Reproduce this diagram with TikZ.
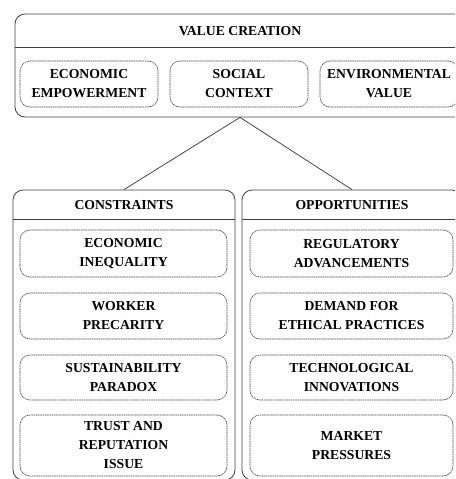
\documentclass[tikz,border=0pt]{standalone}
\usepackage{fontspec}
\setmainfont{Liberation Serif}
\usetikzlibrary{positioning}

\begin{document}
\begin{tikzpicture}[x=1pt,y=-1pt,
    font=\fontsize{13.7}{19}\selectfont\bfseries,
  ]

\tikzstyle{frame} = [rectangle, rounded corners=10pt, draw=black!75, line width=0.8pt, inner sep=0pt]
\tikzstyle{head} = [inner sep=0pt, text centered]
\tikzstyle{item} = [rectangle, rounded corners=10pt, draw=black!75, line width=0.6pt, dash pattern=on 1.2pt off 0.6pt, inner sep=0pt, align=center]

\useasboundingbox (0,0) rectangle (455,479);
\clip (0,0) rectangle (455,479);

    % value creation block
    \node [frame, minimum width=450pt, minimum height=103pt] (vc) at (240,65.5) {};
    \draw [black!75, line width=0.7pt] ([yshift=-34pt]vc.north west) -- ([yshift=-34pt]vc.north east);
    \node [head] (vcTitle) at (240,31) {VALUE CREATION};
    \node [item, minimum width=138pt, minimum height=46pt] (econ) at (89,84) {ECONOMIC\\EMPOWERMENT};
    \node [item, minimum width=138pt, minimum height=46pt] (soc) at (239,84) {SOCIAL\\CONTEXT};
    \node [item, minimum width=138pt, minimum height=46pt] (env) at (389,84) {ENVIRONMENTAL\\VALUE};

    % constraints block
    \node [frame, minimum width=222pt, minimum height=290pt] (cons) at (124,335) {};
    \draw [black!75, line width=0.7pt] ([yshift=-30pt]cons.north west) -- ([yshift=-30pt]cons.north east);
    \node [head] (consTitle) at (124,205) {CONSTRAINTS};
    \node [item, minimum width=207pt, minimum height=47pt] (c1) at (123.5,253.5) {ECONOMIC\\INEQUALITY};
    \node [item, minimum width=207pt, minimum height=46pt] (c2) at (123.5,316) {WORKER\\PRECARITY};
    \node [item, minimum width=207pt, minimum height=45pt] (c3) at (123.5,377.5) {SUSTAINABILITY\\PARADOX};
    \node [item, minimum width=207pt, minimum height=61pt] (c4) at (123.5,445.5) {TRUST AND\\REPUTATION\\ISSUE};

    % opportunities block
    \node [frame, minimum width=220pt, minimum height=290pt] (opp) at (352,335) {};
    \draw [black!75, line width=0.7pt] ([yshift=-30pt]opp.north west) -- ([yshift=-30pt]opp.north east);
    \node [head] (oppTitle) at (352,205) {OPPORTUNITIES};
    \node [item, minimum width=203pt, minimum height=47pt] (o1) at (351.5,253.5) {REGULATORY\\ADVANCEMENTS};
    \node [item, minimum width=203pt, minimum height=46pt] (o2) at (351.5,316) {DEMAND FOR\\ETHICAL PRACTICES};
    \node [item, minimum width=203pt, minimum height=45pt] (o3) at (351.5,377.5) {TECHNOLOGICAL\\INNOVATIONS};
    \node [item, minimum width=203pt, minimum height=61pt] (o4) at (351.5,445.5) {MARKET\\PRESSURES};

    \draw [black!80, line width=0.7pt] (vc.south) -- (cons.north);
    \draw [black!80, line width=0.7pt] (vc.south) -- (opp.north);
\end{tikzpicture}
\end{document}
